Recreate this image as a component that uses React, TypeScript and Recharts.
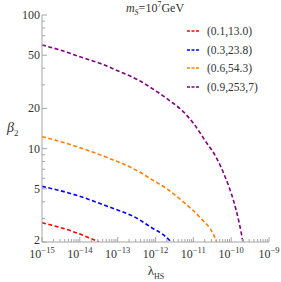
import { LineChart, Line, XAxis, YAxis, Legend } from 'recharts'

// lambda_HS vs beta_2
const redData = [
  { l: 1e-15, b: 2.79 },
  { l: 6.7e-15, b: 2.39 },
  { l: 3.2e-14, b: 2.0 }
]
const blueData = [
  { l: 1e-15, b: 5.22 },
  { l: 6.7e-15, b: 4.55 },
  { l: 5.1e-14, b: 3.72 },
  { l: 3.9e-13, b: 2.92 },
  { l: 7.2e-13, b: 2.6 },
  { l: 1.6e-12, b: 2.27 },
  { l: 2.6e-12, b: 2.0 }
]
const orangeData = [
  { l: 1e-15, b: 12.3 },
  { l: 6.7e-15, b: 10.55 },
  { l: 5.1e-14, b: 8.6 },
  { l: 3.9e-13, b: 6.65 },
  { l: 7.2e-13, b: 5.97 },
  { l: 2.0e-12, b: 5.0 },
  { l: 5.4e-12, b: 4.0 },
  { l: 1.5e-11, b: 3.05 },
  { l: 3.4e-11, b: 2.28 },
  { l: 4.15e-11, b: 2.0 }
]
const purpleData = [
  { l: 1e-15, b: 59.6 },
  { l: 3.0e-15, b: 54.7 },
  { l: 1.0e-14, b: 48.7 },
  { l: 3.4e-14, b: 43.5 },
  { l: 1.15e-13, b: 37.6 },
  { l: 3.9e-13, b: 32.1 },
  { l: 7.2e-13, b: 28.8 },
  { l: 2.4e-12, b: 22.8 },
  { l: 5.4e-12, b: 18.9 },
  { l: 1.0e-11, b: 15.5 },
  { l: 2.0e-11, b: 11.6 },
  { l: 4.15e-11, b: 8.46 },
  { l: 6.9e-11, b: 6.16 },
  { l: 1.14e-10, b: 4.12 },
  { l: 1.64e-10, b: 2.76 },
  { l: 2.05e-10, b: 2.0 }
]

const seriesNames = ['(0.1,13.0)', '(0.3,23.8)', '(0.6,54.3)', '(0.9,253,7)']
const seriesColors = ['#ff0000', '#0000ff', '#ff8000', '#800080']

const xMajor = [1e-15, 1e-14, 1e-13, 1e-12, 1e-11, 1e-10, 1e-9]
const yMajor = [2, 5, 10, 20, 50, 100]
const yMinor = [3, 4, 6, 7, 8, 9, 30, 40, 60, 70, 80, 90]

const xTicks = [
  ...xMajor,
  ...xMajor.slice(0, -1).flatMap(d => [2, 3, 4, 5, 6, 7, 8, 9].map(m => m * d))
]
const yTicks = [...yMajor, ...yMinor]

const AXIS = '#a6a6a6'
const TXT = '#333'
const FONT = '"Liberation Serif", "Times New Roman", serif'

const isMajorX = (v: number) => Math.abs(Math.log10(v) - Math.round(Math.log10(v))) < 1e-6
const isMajorY = (v: number) => yMajor.includes(v)

const XTick = ({ x, y, payload, top }: any) => {
  const v = payload.value
  const major = isMajorX(v)
  const len = major ? 5 : 3
  const e = Math.round(Math.log10(v))
  const dir = top ? 1 : -1
  return (
    <g>
      <line x1={x} y1={y} x2={x} y2={y + dir * len} stroke={AXIS} />
      {!top && major && (
        <text x={x} y={y + 16} textAnchor="middle" fontSize={12} fill={TXT} fontFamily={FONT}>
          10<tspan dy={-5} fontSize={8.5}>{'\u2212' + -e}</tspan>
        </text>
      )}
    </g>
  )
}

const YTick = ({ x, y, payload, right }: any) => {
  const v = payload.value
  const major = isMajorY(v)
  const len = major ? 5 : 3
  const dir = right ? -1 : 1
  return (
    <g>
      <line x1={x} y1={y} x2={x + dir * len} y2={y} stroke={AXIS} />
      {!right && major && (
        <text x={x - 2} y={v === 2 ? y + 2 : y + 4} textAnchor="end" fontSize={12} fill={TXT} fontFamily={FONT}>
          {v}
        </text>
      )}
    </g>
  )
}

const LegendBox = ({ payload }: any) => (
  <div style={{ fontFamily: FONT, fontSize: 11.5, color: TXT }}>
    {(payload || []).map((p: any) => (
      <div key={p.value} style={{ display: 'flex', alignItems: 'center', height: 18.5 }}>
        <svg width={16} height={4} style={{ marginRight: 6 }}>
          <line x1={2} y1={2} x2={14} y2={2} stroke={p.color} strokeWidth={1.6} strokeDasharray="3 1.5" />
        </svg>
        <span>{p.value}</span>
      </div>
    ))}
  </div>
)

const allSeries = [redData, blueData, orangeData, purpleData]

export default function App() {
  return (
    <div style={{ position: 'absolute', left: 0, top: 0, width: 281, height: 282, background: '#fff' }}>
      <LineChart width={281} height={282} margin={{ top: 15, right: 12, bottom: 0, left: 0 }}>
        <XAxis
          dataKey="l"
          type="number"
          scale="log"
          domain={[1e-15, 1e-9]}
          allowDataOverflow
          ticks={xTicks}
          interval={0}
          height={40}
          tickSize={0}
          tickMargin={0}
          tickLine={false}
          stroke={AXIS}
          tick={<XTick />}
        />
        <XAxis
          xAxisId="top"
          orientation="top"
          dataKey="l"
          type="number"
          scale="log"
          domain={[1e-15, 1e-9]}
          allowDataOverflow
          ticks={xTicks}
          interval={0}
          height={0}
          tickSize={0}
          tickMargin={0}
          tickLine={false}
          stroke={AXIS}
          tick={<XTick top />}
        />
        <YAxis
          type="number"
          scale="log"
          domain={[2, 100]}
          allowDataOverflow
          ticks={yTicks}
          interval={0}
          width={42}
          tickSize={0}
          tickMargin={0}
          tickLine={false}
          stroke={AXIS}
          tick={<YTick />}
        />
        <YAxis
          yAxisId="right"
          orientation="right"
          type="number"
          scale="log"
          domain={[2, 100]}
          allowDataOverflow
          ticks={yTicks}
          interval={0}
          width={0}
          tickSize={0}
          tickMargin={0}
          tickLine={false}
          stroke={AXIS}
          tick={<YTick right />}
        />
        <Legend
          layout="horizontal"
          verticalAlign="middle"
          align="center"
          content={<LegendBox />}
          wrapperStyle={{ position: 'absolute', left: 185, top: 22, width: 90 }}
        />
        {allSeries.map((d, i) => (
          <Line
            key={seriesNames[i]}
            data={d}
            dataKey="b"
            name={seriesNames[i]}
            type="monotone"
            stroke={seriesColors[i]}
            strokeWidth={1.6}
            strokeDasharray="4 2.5"
            dot={false}
            activeDot={false}
            isAnimationActive={false}
          />
        ))}
      </LineChart>
      <div style={{ position: 'absolute', left: 0, width: 310, top: 0, textAlign: 'center', fontFamily: FONT, fontSize: 12, color: TXT }}>
        <i>m</i><sub style={{ fontSize: 8 }}><i>S</i></sub>=10<sup style={{ fontSize: 8 }}>7</sup>GeV
      </div>
      <div style={{ position: 'absolute', left: 7, top: 120, fontFamily: FONT, fontSize: 14, color: TXT }}>
        <i>β</i><sub style={{ fontSize: 9 }}>2</sub>
      </div>
      <div style={{ position: 'absolute', left: 0, width: 312, top: 263, textAlign: 'center', fontFamily: FONT, fontSize: 13, color: TXT }}>
        λ<sub style={{ fontSize: 8 }}>HS</sub>
      </div>
    </div>
  )
}
